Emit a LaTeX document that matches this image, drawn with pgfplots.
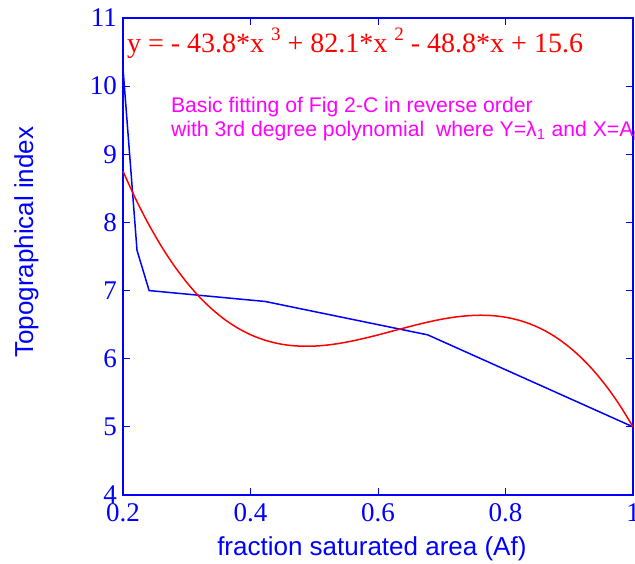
\documentclass[border=0pt]{standalone}
\usepackage{fontspec}
\setmainfont{Liberation Serif}
\newfontfamily\arial{Liberation Sans}
\usepackage{pgfplots}
\pgfplotsset{compat=1.18}
\definecolor{mblue}{RGB}{0,0,255}
\definecolor{mred}{RGB}{255,0,0}
\definecolor{mmag}{RGB}{255,0,255}
\begin{document}
\begin{tikzpicture}
\path[use as bounding box] (0,0) rectangle (635pt,563pt);
\clip (0,0) rectangle (635pt,563pt);
\begin{axis}[
    at={(123pt,68pt)}, anchor=south west,
    width=510pt, height=477pt, scale only axis,
    xmin=0.2, xmax=1, ymin=4, ymax=11,
    xtick={0.2,0.4,0.6,0.8,1}, xticklabels={0.2,0.4,0.6,0.8,1},
    ytick={4,5,6,7,8,9,10,11}, yticklabels={4,5,6,7,8,9,10,11},
    xtick pos=both, ytick pos=both,
    axis line style={mblue, line width=1.2pt},
    every tick/.style={mblue, line width=1pt},
    major tick length=7pt,
    tick align=inside,
    clip=false,
    /pgf/number format/assume math mode=true,
    ticklabel style={text=mblue, font=\fontsize{27}{27}\selectfont, inner sep=0pt},
    yticklabel style={anchor=east, xshift=-6pt},
    xticklabel style={anchor=north, yshift=-8pt},
    xlabel={fraction saturated area (Af)},
    ylabel={Topographical index},
    label style={text=mblue, font=\arial\fontsize{26}{26}\selectfont, inner sep=0pt},
    xlabel style={at={(axis description cs:0.488,-0.126)}, anchor=base},
    ylabel style={at={(axis description cs:-0.176,0.53)}, anchor=base},
]

% data curve
\addplot[mblue, line width=1.5pt] coordinates {
    (0.2,10.26) (0.222,7.59) (0.241,7.0) (0.423,6.84) (0.678,6.35) (1,5.0)
};

% 3rd degree fit
\addplot[mred, line width=1.5pt, smooth] coordinates {
    (0.20,8.751) (0.22,8.342) (0.24,7.977) (0.26,7.653) (0.28,7.368) (0.30,7.120)
    (0.32,6.905) (0.34,6.724) (0.36,6.572) (0.38,6.450) (0.40,6.353) (0.42,6.280)
    (0.44,6.229) (0.46,6.197) (0.48,6.184) (0.50,6.185) (0.52,6.200) (0.54,6.226)
    (0.56,6.261) (0.58,6.303) (0.60,6.349) (0.62,6.399) (0.64,6.448) (0.66,6.497)
    (0.68,6.541) (0.70,6.580) (0.72,6.610) (0.74,6.630) (0.76,6.638) (0.78,6.632)
    (0.80,6.609) (0.82,6.567) (0.84,6.505) (0.86,6.420) (0.88,6.309) (0.90,6.171)
    (0.92,6.004) (0.94,5.806) (0.96,5.574) (0.98,5.306) (1.00,5.000)
};

\node[anchor=base west, text=mred, inner sep=0pt, font=\fontsize{28}{28}\selectfont]
    at (axis cs:0.206,10.49)
    {y = - 43.8*x \raisebox{0.45em}{\fontsize{19}{19}\selectfont 3} + 82.1*x \raisebox{0.45em}{\fontsize{19}{19}\selectfont 2} - 48.8*x + 15.6};
\node[anchor=base west, text=mmag, inner sep=0pt, font=\arial\fontsize{21.2}{21.2}\selectfont]
    at (axis cs:0.275,9.62) {Basic fitting of Fig 2-C in reverse order};
\node[anchor=base west, text=mmag, inner sep=0pt, font=\arial\fontsize{21.2}{21.2}\selectfont]
    at (axis cs:0.275,9.26) {with 3rd degree polynomial\ \ where Y=λ\textsubscript{1} and X=A\textsubscript{f}};
\end{axis}
\end{tikzpicture}
\end{document}
